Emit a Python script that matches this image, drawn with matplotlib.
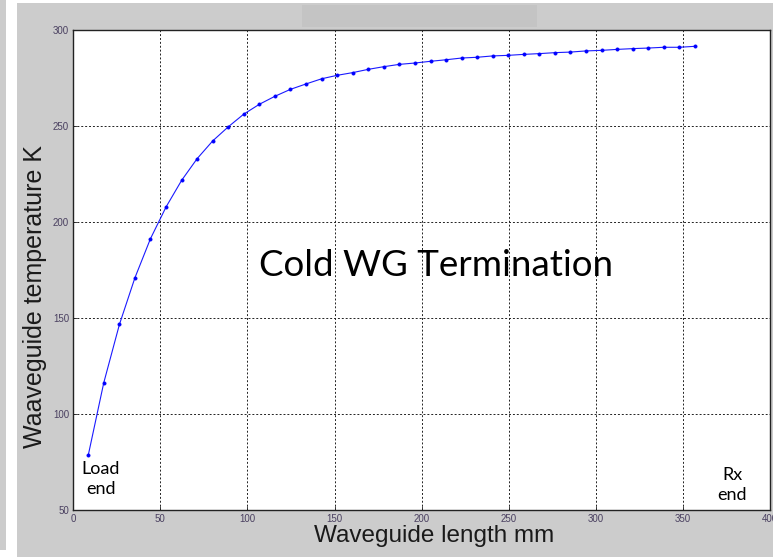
import matplotlib.pyplot as plt
from matplotlib.patches import Rectangle

# waveguide position (mm) and physical temperature (K) along the cold termination
longitud = [8.6, 17.5, 26.5, 35.4, 44.3, 53.3, 62.2, 71.1, 80.0, 89.0,
            97.9, 106.8, 115.8, 124.7, 133.6, 142.6, 151.5, 160.4, 169.3, 178.3,
            187.2, 196.1, 205.1, 214.0, 222.9, 231.9, 240.8, 249.7, 258.6, 267.6,
            276.5, 285.4, 294.4, 303.3, 312.2, 321.2, 330.1, 339.0, 347.9, 356.9]
temperatura = [78.6, 116.3, 146.7, 171.0, 191.3, 207.9, 221.7, 233.0, 242.2, 249.6,
               256.2, 261.3, 265.5, 269.1, 271.9, 274.6, 276.4, 277.8, 279.5, 280.9,
               282.1, 282.8, 283.7, 284.5, 285.4, 285.8, 286.5, 286.8, 287.3, 287.7,
               288.2, 288.5, 289.1, 289.4, 289.9, 290.3, 290.6, 291.0, 291.0, 291.5]
xticks = [0, 50, 100, 150, 200, 250, 300, 350, 400]
yticks = [50, 100, 150, 200, 250, 300]

W, H = 773, 557
fig = plt.figure(figsize=(W / 100, H / 100), dpi=100, facecolor='white')


def caja(x0, y0, x1, y1, color):
    # rectangulo en pixeles, y medida desde arriba
    fig.patches.append(Rectangle((x0 / W, 1 - y1 / H), (x1 - x0) / W, (y1 - y0) / H,
                                 transform=fig.transFigure, facecolor=color,
                                 edgecolor='none', zorder=-10))


def px(x, y):
    return x / W, 1 - y / H


# fondo gris de la ventana
caja(0, 0, 5.5, 550, '#cccccc')
caja(16.5, 3, W, H, '#cccccc')
caja(302, 5, 537, 27, '#c4c4c4')

ax = fig.add_axes([73.3 / W, 1 - 510 / H, (770 - 73.3) / W, (510 - 30) / H])
ax.set_facecolor('white')
ax.plot(longitud, temperatura, color='#1a1aff', lw=0.8, marker='.', ms=4.5,
        markeredgewidth=0.6, markerfacecolor='#0000ff', markeredgecolor='#0000ff')

ax.set_xlim(0, 400)
ax.set_ylim(50, 300)
ax.set_xticks(xticks)
ax.set_yticks(yticks)
ax.tick_params(direction='in', length=3, width=0.6, colors='#222222',
               labelcolor='#4a4060', labelsize=7, pad=3)
for lab in ax.get_xticklabels() + ax.get_yticklabels():
    lab.set_family('Liberation Sans')
ax.grid(True, color='#222222', linestyle=(0, (2, 2)), lw=0.7)
for s in ax.spines.values():
    s.set_color('#222222')
    s.set_linewidth(1.0)

fig.text(*px(35, 297), 'Waaveguide temperature K', rotation=90, ha='center', va='center',
         fontsize=18, family='Liberation Sans', color='#1a1a1a')
fig.text(*px(434, 536), 'Waveguide length mm', ha='center', va='center',
         fontsize=17.5, family='Liberation Sans', color='#1a1a1a')

fig.text(*px(436, 266), 'Cold WG Termination', ha='center', va='center',
         fontsize=26.5, family='Lato', color='black')
fig.text(*px(101, 479), 'Load\nend', ha='center', va='center', fontsize=13,
         family='Lato', color='black', linespacing=1.3)
fig.text(*px(732, 485), 'Rx\nend', ha='center', va='center', fontsize=13,
         family='Lato', color='black', linespacing=1.3)

fig.savefig('out.png', dpi=100, facecolor=fig.get_facecolor())
